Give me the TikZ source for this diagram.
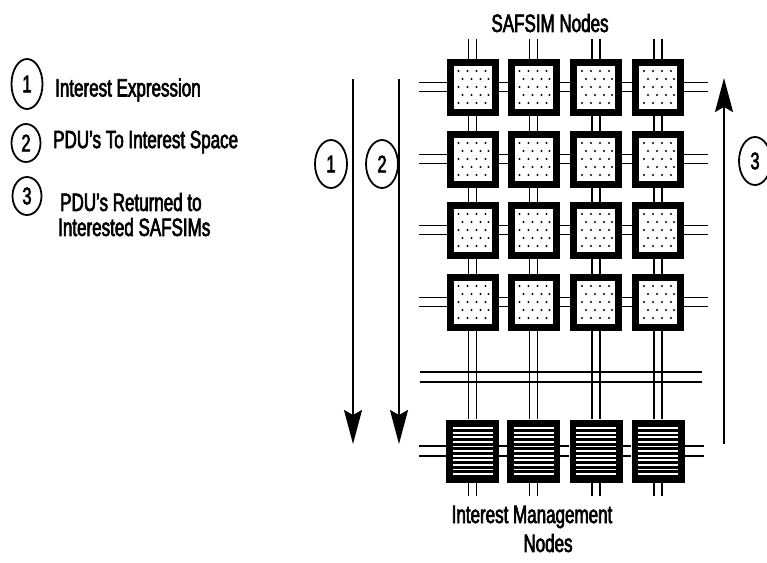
\documentclass[tikz,border=0pt]{standalone}
\usepackage{fontspec}
\setmainfont{Liberation Sans}[FakeStretch=0.68,FakeBold=2.5]
\usetikzlibrary{arrows.meta,shapes.geometric}
\begin{document}
\begin{tikzpicture}[x=1pt,y=-1pt,
  safbox/.style={draw=black,line width=7pt,fill=white,minimum width=45pt,minimum height=50pt,inner sep=0pt},
  imbox/.style={fill=black,minimum width=53pt,minimum height=63pt,inner sep=0pt},
  wire/.style={line width=1.8pt},
  flow/.style={line width=2pt,-{Stealth[length=34pt,width=18pt,inset=5pt]}},
  num/.style={ellipse,draw,line width=1.8pt,inner sep=0pt,minimum width=32pt,minimum height=48pt,font=\fontsize{24}{24}\selectfont},
  lbl/.style={font=\fontsize{25}{28}\selectfont,inner sep=0pt}]
\useasboundingbox (0,0) rectangle (767,562);

% grid of SAFSIM nodes and interest management nodes
\foreach \c/\x in {1/472.5,2/533.5,3/596,4/658} {
  \foreach \r/\y in {1/87,2/159,3/230,4/302} {
    \node[safbox] (s\r\c) at (\x,\y) {};
    % stipple inside each SAFSIM node
    \foreach \dy/\xs in {-16/{-14,-5,4,13},-8/{-10,-1,8,16},0/{-14,-5,4,13},8/{-10,-1,8,16},16/{-14,-5,4,13}}
      \foreach \dx in \xs
        \fill ([xshift=\dx pt,yshift=-\dy pt]s\r\c.center) circle (1.1pt);
  }
  \node[imbox] (m\c) at (\x,451) {};
  % horizontal stripes inside each interest management node
  \foreach \k [evaluate=\k as \ys using 23-4.6*\k] in {0,...,10}
    \draw[white,line width=1.8pt] ([xshift=-20pt,yshift=\ys pt]m\c.center) -- ([xshift=20pt,yshift=\ys pt]m\c.center);
}

% vertical double links
\foreach \c in {1,...,4} {
  \foreach \d in {-4,4} {
    \draw[wire] ([xshift=\d pt]s1\c.north) -- ++(0,-20);
    \foreach \r/\n in {1/2,2/3,3/4}
      \draw[wire] ([xshift=\d pt]s\r\c.south) -- ([xshift=\d pt]s\n\c.north);
    \draw[wire] ([xshift=\d pt]s4\c.south) -- ([xshift=\d pt]m\c.north);
    \draw[wire] ([xshift=\d pt]m\c.south) -- ++(0,13);
  }
}

% horizontal double links
\foreach \r in {1,...,4} {
  \foreach \d in {-4.5,4.5} {
    \draw[wire] ([yshift=\d pt]s\r1.west) -- ++(-28,0);
    \foreach \c/\n in {1/2,2/3,3/4}
      \draw[wire] ([yshift=\d pt]s\r\c.east) -- ([yshift=\d pt]s\r\n.west);
    \draw[wire] ([yshift=\d pt]s\r4.east) -- ++(24,0);
  }
}
\foreach \d in {-5,5} {
  \draw[wire] ([yshift=\d pt]m1.west) -- ++(-27,0);
  \foreach \c/\n in {1/2,2/3,3/4}
    \draw[wire] ([yshift=\d pt]m\c.east) -- ([yshift=\d pt]m\n.west);
  \draw[wire] ([yshift=\d pt]m4.east) -- ++(19,0);
}

% shared bus between the two layers
\coordinate (busL) at (420,372);
\coordinate (busR) at (702,372);
\draw[wire] (busL) -- (busR);
\draw[wire] ([yshift=-10pt]busL) -- ([yshift=-10pt]busR);

% flow arrows
\coordinate (a1s) at (353,79);  \coordinate (a1e) at (353,444);
\coordinate (a2s) at (399,79);  \coordinate (a2e) at (399,444);
\coordinate (a3s) at (724,444); \coordinate (a3e) at (724,78);
\draw[flow] (a1s) -- (a1e);
\draw[flow] (a2s) -- (a2e);
\draw[flow] (a3s) -- (a3e);
\node[num] (n1) at (331,164) {1};
\node[num] (n2) at (382,164) {2};
\node[num] (n3) at (755,161) {3};

% legend
\node[num,minimum width=31pt,minimum height=50pt] (k1) at (27,84) {1};
\node[num,minimum width=29pt,minimum height=38pt] (k2) at (26,143) {2};
\node[num,minimum width=29pt,minimum height=38pt] (k3) at (27,196) {3};
\node[lbl,anchor=west] (t1) at (55,90) {Interest Expression};
\node[lbl,anchor=west] (t2) at (53,142) {PDU's To Interest Space};
\node[lbl,anchor=west] (t3a) at (60,202) {PDU's Returned to};
\node[lbl,anchor=west] (t3b) at (58,227) {Interested SAFSIMs};

% titles
\node[lbl] (ttl) at (550,23) {SAFSIM Nodes};
\node[lbl] (iml1) at (532,517) {Interest Management};
\node[lbl] (iml2) at (548,543) {Nodes};
\end{tikzpicture}
\end{document}
